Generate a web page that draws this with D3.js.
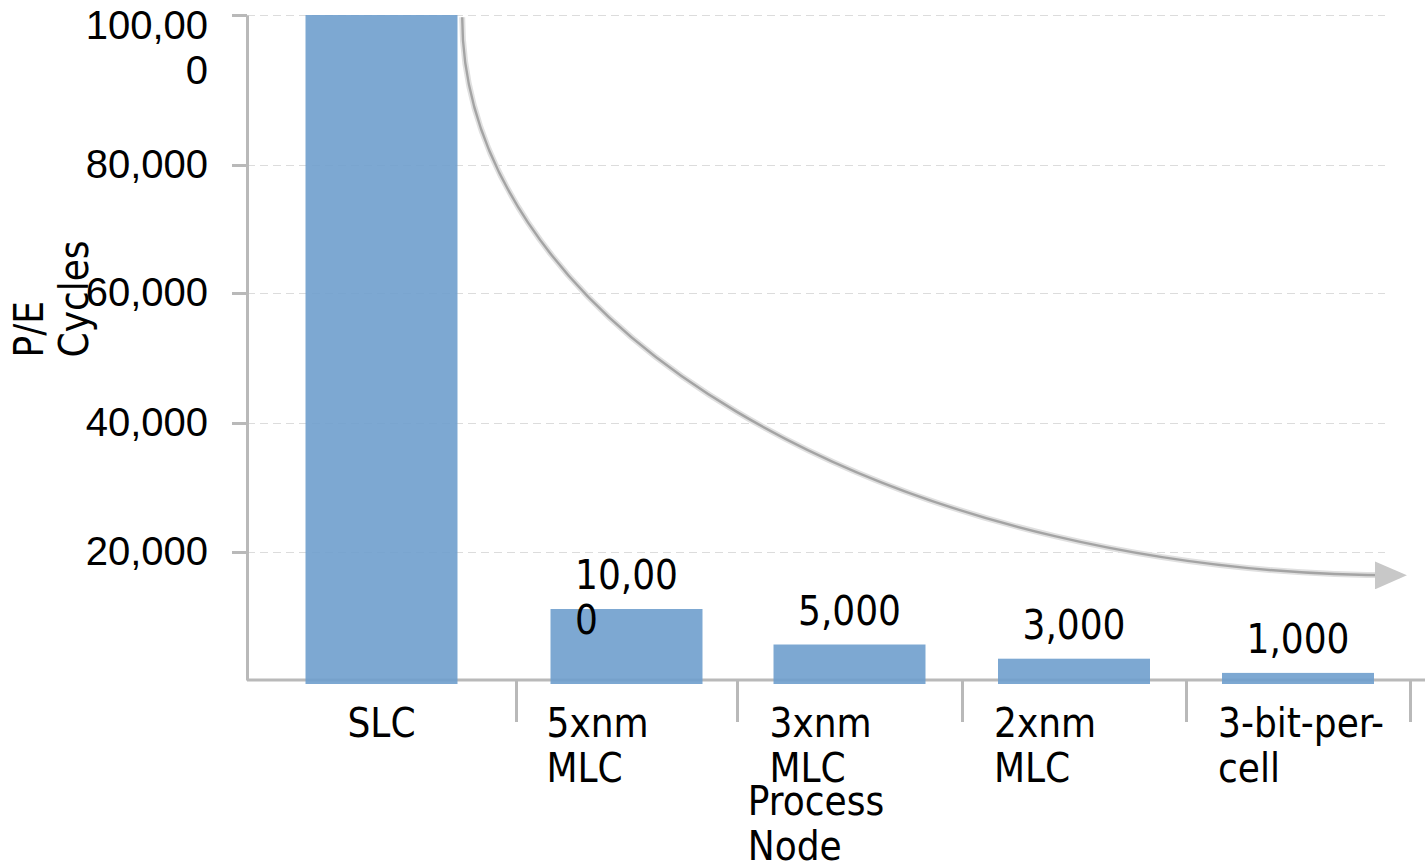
<!DOCTYPE html>
<html>
<head>
<meta charset="utf-8">
<script src="https://cdn.jsdelivr.net/npm/d3@7"></script>
<style>
  body { margin: 0; background: #fff; }
  svg { display: block; font-family: 'DejaVu Sans Condensed', 'DejaVu Sans', sans-serif; font-size: 40px; }
  .grade line { stroke: #dcdcdc; stroke-width: 1; stroke-dasharray: 8 5; }
  .grade .domain { display: none; }
  .eixo path, .eixo line { stroke: #b9b9b9; stroke-width: 3; }
  .eixo text { fill: #000; font-size: 40px; font-family: inherit; }
  .rotulo, .titulo-eixo, .categoria { fill: #000; }
</style>
</head>
<body>
<svg id="grafico"></svg>
<script>
// dados do gráfico
const categorias = ['SLC', '5xnm MLC', '3xnm MLC', '2xnm MLC', '3-bit-per-cell'];
const ciclosPE = [100000, 10000, 5000, 3000, 1000];
const ticksY = [20000, 40000, 60000, 80000, 100000];
const tituloX = 'Process Node';
const tituloY = 'P/E Cycles';
// seta de tendência (um quarto de elipse): início e fim em [posição na categoria, ciclos]
const setaInicio = [0.80, 99700];
const setaFim = [4.955, 15900];

const largura = 1425, altura = 865;
const svg = d3.select('#grafico').attr('width', largura).attr('height', altura);

// o eixo do original não é uniforme, então a escala é feita em trechos
const y = d3.scaleLinear()
    .domain([0, 10000, 20000, 40000, 60000, 80000, 100000])
    .range([680, 609, 552, 423, 293, 165, 15]);

// limites de cada categoria no eixo horizontal
const x = d3.scaleLinear()
    .domain(d3.range(categorias.length + 1))
    .range([247, 516, 737, 962, 1186, 1410]);

const fimGrade = 1385;
const larguraBarra = 152;
const alturaLinha = 45;

// quebra o texto em linhas (depois de espaços e hífens) até caber na largura
function quebraTexto(texto, larguraMax, dyInicial) {
  texto.each(function() {
    const el = d3.select(this);
    const xTexto = el.attr('x') || 0;
    const mede = s => { el.text(s); return this.getComputedTextLength(); };
    const pedacos = el.text().split(/(?<=[\s-])/);
    let linhas = [], linha = '';
    pedacos.forEach(p => {
      if (linha !== '' && mede((linha + p).trim()) > larguraMax) {
        linhas.push(linha.trim());
        linha = p;
      } else {
        linha += p;
      }
    });
    linhas.push(linha.trim());
    // palavras maiores que a caixa são quebradas por caractere
    const final = [];
    linhas.forEach(l => {
      let atual = '';
      for (const c of l) {
        if (atual !== '' && mede(atual + c) > larguraMax) { final.push(atual); atual = c; }
        else atual += c;
      }
      final.push(atual);
    });
    el.text(null);
    final.forEach((l, i) => {
      el.append('tspan')
        .attr('x', xTexto)
        .attr('dy', i === 0 ? dyInicial : alturaLinha)
        .text(l);
    });
  });
}

// grade
svg.append('g')
    .attr('class', 'grade')
    .attr('transform', `translate(${x(0)},0)`)
    .call(d3.axisRight(y).tickValues(ticksY).tickSize(fimGrade - x(0)).tickFormat(''));

// eixo Y
const eixoY = svg.append('g')
    .attr('class', 'eixo')
    .attr('transform', `translate(${x(0)},0)`)
    .call(d3.axisLeft(y).tickValues(ticksY).tickSize(15).tickSizeOuter(0).tickPadding(24).tickFormat(d3.format(',')));
eixoY.selectAll('text').call(quebraTexto, 135, '0.3em');
// mantém os rótulos dentro da figura
eixoY.selectAll('.tick text').each(function() {
  const caixa = this.getBBox();
  const topo = caixa.y + +d3.select(this.parentNode).attr('transform').match(/,([\d.]+)/)[1];
  if (topo < 3) d3.select(this).attr('transform', `translate(0,${3 - topo})`);
});

// eixo X
const eixoX = svg.append('g')
    .attr('class', 'eixo')
    .attr('transform', `translate(0,${y(0)})`)
    .call(d3.axisBottom(x).tickValues(d3.range(1, categorias.length + 1)).tickSize(42).tickSizeOuter(0).tickFormat(''));
eixoX.select('.domain').attr('d', `M${x(0)},0H${largura}`);

// barras
svg.selectAll('.barra')
    .data(ciclosPE)
    .join('rect')
    .attr('class', 'barra')
    .attr('x', (d, i) => x(i + 0.5) - larguraBarra / 2)
    .attr('y', d => y(d))
    .attr('width', larguraBarra)
    .attr('height', d => y(0) + 4 - y(d))
    .attr('fill', '#6f9ecd')
    .attr('fill-opacity', 0.9);

// rótulos de valor (a primeira barra não tem)
const rotulos = svg.selectAll('.rotulo')
    .data(ciclosPE.map((v, i) => ({ v, i })).filter(d => d.i > 0))
    .join('text')
    .attr('class', 'rotulo')
    .attr('x', 0)
    .attr('y', d => y(d.v) - 20)
    .text(d => d3.format(',')(d.v))
    .call(quebraTexto, 115, 0);
// bloco centrado na barra, linhas alinhadas à esquerda
rotulos.each(function(d) {
  const w = this.getBBox().width;
  d3.select(this).selectAll('tspan').attr('x', x(d.i + 0.5) - w / 2);
});

// nomes das categorias
svg.selectAll('.categoria')
    .data(categorias)
    .join('text')
    .attr('class', 'categoria')
    .attr('x', 0)
    .attr('y', y(0) + 57)
    .text(d => d)
    .call(quebraTexto, 175, 0)
    .each(function(d, i) {
      const el = d3.select(this);
      if (el.selectAll('tspan').size() > 1) {
        el.selectAll('tspan').attr('x', x(i + 0.5) - larguraBarra / 2 - 4);
      } else {
        el.attr('text-anchor', 'middle').selectAll('tspan').attr('x', x(i + 0.5));
      }
    });

// títulos dos eixos
const tx = svg.append('text')
    .attr('class', 'titulo-eixo')
    .attr('x', 0)
    .attr('y', y(0) + 135)
    .text(tituloX)
    .call(quebraTexto, 175, 0);
const wx = tx.node().getBBox().width;
tx.selectAll('tspan').attr('x', (x(0) + fimGrade) / 2 - wx / 2);

svg.append('text')
    .attr('class', 'titulo-eixo')
    .attr('x', 0)
    .attr('y', 0)
    .attr('transform', `translate(43, ${(y(0) + y(100000)) / 2 + 10}) rotate(-90)`)
    .text(tituloY)
    .call(quebraTexto, 175, 0);

// seta de tendência
svg.append('defs').append('marker')
    .attr('id', 'ponta')
    .attr('markerUnits', 'userSpaceOnUse')
    .attr('viewBox', '0 0 32 28')
    .attr('markerWidth', 32)
    .attr('markerHeight', 28)
    .attr('refX', 25)
    .attr('refY', 14)
    .attr('orient', 'auto')
  .append('path')
    .attr('d', 'M0,0L32,14L0,28Z')
    .attr('fill', '#c8c8c8');

const x0 = x(setaInicio[0]), y0 = y(setaInicio[1]);
const x1 = x(setaFim[0]), y1 = y(setaFim[1]);
const caminhoSeta = `M${x0},${y0}A${x1 - x0},${y1 - y0} 0 0 0 ${x1},${y1}`;

svg.append('path')
    .attr('d', caminhoSeta)
    .attr('fill', 'none')
    .attr('stroke', '#e0e0e0')
    .attr('stroke-width', 6);

svg.append('path')
    .attr('d', caminhoSeta)
    .attr('fill', 'none')
    .attr('stroke', '#a4a4a4')
    .attr('stroke-width', 2.4)
    .attr('marker-end', 'url(#ponta)');
</script>
</body>
</html>
